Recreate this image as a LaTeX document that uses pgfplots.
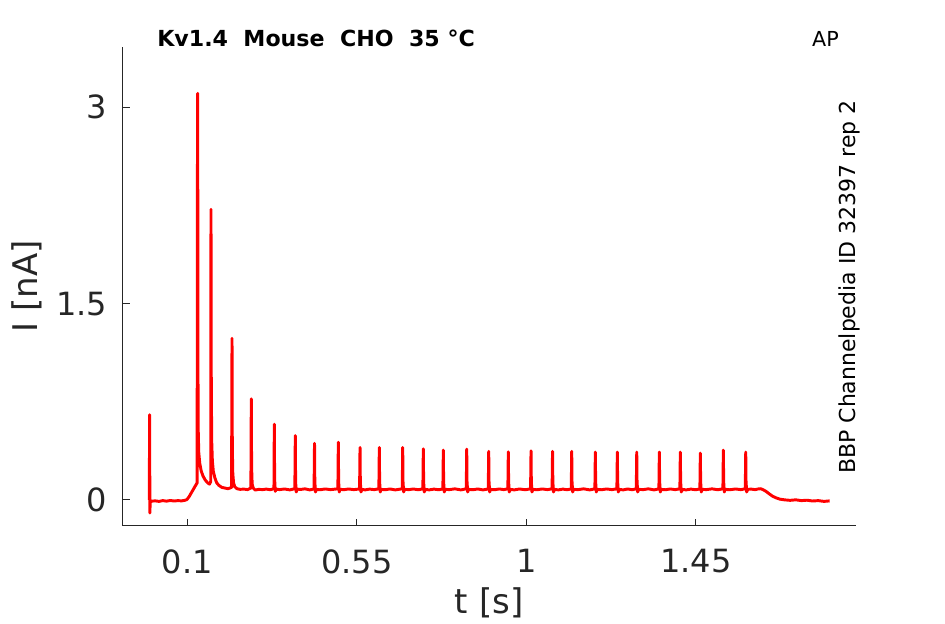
\documentclass[border=0pt]{standalone}
\usepackage{fontspec}
\setmainfont{DejaVu Sans}
\usepackage{pgfplots}
\pgfplotsset{compat=1.18}
\definecolor{axgray}{HTML}{262626}
\begin{document}
\begin{tikzpicture}
\useasboundingbox (0,0) rectangle (708.75pt,468pt);
\begin{axis}[
  at={(91.7pt,73.5pt)}, anchor=south west,
  scale only axis, width=550.3pt, height=359.25pt,
  xmin=-0.0726, xmax=1.875, ymin=-0.2, ymax=3.461,
  axis x line*=bottom, axis y line*=left,
  axis line style={axgray, line width=0.75pt, -},
  tick align=inside, major tick length=5.5pt,
  tick style={axgray, line width=0.75pt},
  xtick={0.1,0.55,1,1.45}, xticklabels={0.1,0.55,1,1.45},
  ytick={0,1.5,3}, yticklabels={0,1.5,3},
  /pgf/number format/assume math mode=true,
  ticklabel style={font=\fontsize{24}{28}\selectfont, text=axgray, inner sep=0pt},
  xticklabel style={anchor=north, yshift=-17.3pt},
  yticklabel style={anchor=east, xshift=-11.2pt},
  xlabel={t [s]}, ylabel={I [nA]},
  label style={font=\fontsize{25.5}{30}\selectfont, text=axgray, inner sep=0pt},
  xlabel style={at={(axis description cs:0.5,-0.1830)}, anchor=base},
  ylabel style={at={(axis description cs:-0.1154,0.5)}, anchor=base, rotate=0},
  clip=false,
]
\addplot[red, line width=2.2pt, line join=round] coordinates {
(-0.0008,0.0) (0.0000,0.65) (0.0007,-0.10) (0.0015,-0.02) (0.005,-0.01)
(0.015,-0.008) (0.025,-0.012) (0.035,-0.006) (0.045,-0.01) (0.055,-0.005)
(0.065,-0.009) (0.075,-0.006) (0.085,-0.008) (0.093,-0.004) (0.099,0.002)
(0.105,0.025) (0.111,0.055) (0.117,0.085) (0.122,0.11) (0.1262,0.13)
(0.1266,2.2) (0.1276,3.107) (0.1283,1.0) (0.1292,0.50) (0.1305,0.36)
(0.133,0.28) (0.137,0.22) (0.142,0.18) (0.148,0.15) (0.154,0.13) (0.159,0.12)
(0.1622,0.14) (0.1629,2.22) (0.1637,0.9) (0.1648,0.45) (0.1665,0.30)
(0.169,0.22) (0.173,0.17) (0.178,0.13) (0.184,0.11) (0.192,0.095) (0.200,0.09)
(0.208,0.085) (0.2175,0.095) (0.2187,1.235) (0.2195,0.40) (0.2208,0.20)
(0.2228,0.13) (0.226,0.10) (0.232,0.085) (0.240,0.08) (0.250,0.082) (0.260,0.078)
(0.2688,0.09) (0.2699,0.772) (0.2707,0.25) (0.2722,0.12) (0.275,0.09)
(0.280,0.075) (0.290,0.08) (0.300,0.078) (0.310,0.082) (0.320,0.077)
(0.3300,0.085) (0.3310,0.578) (0.3318,0.16) (0.3335,0.065) (0.336,0.082)
(0.345,0.078) (0.358,0.083) (0.372,0.076)
(0.3855,0.085) (0.3867,0.491) (0.3875,0.14) (0.3892,0.06) (0.3917,0.082)
(0.400,0.079) (0.412,0.084) (0.425,0.076)
(0.4365,0.083) (0.4377,0.432) (0.4385,0.14) (0.4402,0.06) (0.4427,0.08)
(0.452,0.077) (0.466,0.083) (0.480,0.078)
(0.4997,0.084) (0.5009,0.44) (0.5017,0.14) (0.5034,0.06) (0.5059,0.081)
(0.515,0.077) (0.528,0.083) (0.542,0.078)
(0.5573,0.083) (0.5585,0.40) (0.5593,0.14) (0.5610,0.06) (0.5635,0.08)
(0.572,0.076) (0.584,0.082) (0.596,0.078)
(0.6085,0.084) (0.6097,0.40) (0.6105,0.14) (0.6122,0.06) (0.6147,0.08)
(0.625,0.077) (0.638,0.083) (0.652,0.076)
(0.6706,0.084) (0.6718,0.40) (0.6726,0.14) (0.6743,0.06) (0.6768,0.08)
(0.688,0.078) (0.700,0.083) (0.713,0.077)
(0.7253,0.084) (0.7265,0.39) (0.7273,0.14) (0.7290,0.06) (0.7315,0.08)
(0.742,0.076) (0.755,0.082) (0.767,0.077)
(0.7784,0.083) (0.7796,0.38) (0.7804,0.14) (0.7821,0.06) (0.7846,0.08)
(0.796,0.078) (0.810,0.084) (0.826,0.076)
(0.8405,0.084) (0.8417,0.387) (0.8425,0.14) (0.8442,0.06) (0.8467,0.08)
(0.858,0.077) (0.871,0.083) (0.885,0.076)
(0.8989,0.083) (0.9001,0.37) (0.9009,0.14) (0.9026,0.06) (0.9051,0.08)
(0.915,0.077) (0.928,0.083) (0.940,0.078)
(0.9509,0.084) (0.9521,0.367) (0.9529,0.14) (0.9546,0.06) (0.9571,0.08)
(0.968,0.076) (0.982,0.083) (0.997,0.077)
(1.0112,0.084) (1.0124,0.375) (1.0132,0.14) (1.0149,0.06) (1.0174,0.08)
(1.028,0.077) (1.042,0.083) (1.056,0.078)
(1.0683,0.084) (1.0695,0.37) (1.0703,0.14) (1.0720,0.06) (1.0745,0.08)
(1.085,0.076) (1.097,0.082) (1.108,0.077)
(1.1192,0.083) (1.1204,0.37) (1.1212,0.14) (1.1229,0.06) (1.1254,0.08)
(1.137,0.078) (1.152,0.084) (1.168,0.076)
(1.1819,0.084) (1.1831,0.365) (1.1839,0.14) (1.1856,0.06) (1.1881,0.08)
(1.199,0.077) (1.213,0.083) (1.227,0.078)
(1.2403,0.084) (1.2415,0.365) (1.2423,0.14) (1.2440,0.06) (1.2465,0.08)
(1.257,0.076) (1.269,0.083) (1.281,0.077)
(1.2918,0.084) (1.2930,0.365) (1.2938,0.14) (1.2955,0.06) (1.2980,0.08)
(1.310,0.078) (1.324,0.084) (1.339,0.076)
(1.3518,0.084) (1.3530,0.365) (1.3538,0.14) (1.3555,0.06) (1.3580,0.08)
(1.369,0.077) (1.382,0.083) (1.395,0.078)
(1.4075,0.084) (1.4087,0.365) (1.4095,0.14) (1.4112,0.06) (1.4137,0.08)
(1.424,0.076) (1.437,0.082) (1.449,0.077)
(1.4606,0.083) (1.4618,0.357) (1.4626,0.14) (1.4643,0.06) (1.4668,0.08)
(1.478,0.078) (1.493,0.084) (1.508,0.077)
(1.5217,0.084) (1.5229,0.38) (1.5237,0.14) (1.5254,0.06) (1.5279,0.08)
(1.540,0.077) (1.555,0.083) (1.569,0.078)
(1.5811,0.084) (1.5823,0.365) (1.5831,0.14) (1.5848,0.06) (1.5873,0.08)
(1.597,0.082) (1.607,0.078) (1.615,0.083) (1.622,0.085) (1.628,0.078)
(1.636,0.065) (1.645,0.045) (1.654,0.027) (1.663,0.015) (1.673,0.005)
(1.685,0.0) (1.700,-0.004) (1.715,0.0) (1.730,-0.006) (1.745,-0.003)
(1.760,-0.009) (1.775,-0.006) (1.790,-0.012) (1.805,-0.008)
};
\end{axis}
\begin{scope}[x=0.75pt,y=-0.75pt,yshift=468pt]
\node[anchor=base west, inner sep=0pt, font=\bfseries\fontsize{16.6}{19}\selectfont] at (157,46.7) {Kv1.4\ \ Mouse\ \ CHO\ \ 35 °C};
\node[anchor=base east, inner sep=0pt, font=\fontsize{15.5}{18}\selectfont] at (839,46.7) {AP};
\node[anchor=base west, inner sep=0pt, rotate=90, font=\fontsize{16.5}{19}\selectfont] at (855,474) {BBP Channelpedia ID 32397 rep 2};
\end{scope}
\end{tikzpicture}
\end{document}
